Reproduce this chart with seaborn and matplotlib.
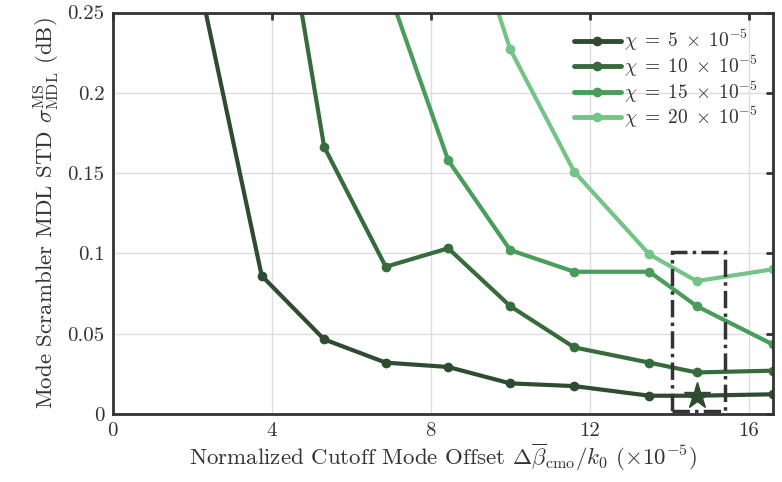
import numpy as np
import pandas as pd
import matplotlib
matplotlib.use('Agg')
import matplotlib.pyplot as plt
from matplotlib.patches import Rectangle
from matplotlib.lines import Line2D
from matplotlib.ticker import FuncFormatter
import seaborn as sns

# data (x in units of 1e-5)
x_offset = [2.18, 3.75, 5.32, 6.87, 8.44, 10.0, 11.61, 13.5, 14.69, 16.6]
std_chi5 = [0.269, 0.0861, 0.0465, 0.0320, 0.0293, 0.0191, 0.0174, 0.0114, 0.0114, 0.0123]
std_chi10 = [None, 0.399, 0.1664, 0.0917, 0.1032, 0.0672, 0.0415, 0.0320, 0.0259, 0.0270]
std_chi15 = [None, None, None, 0.269, 0.158, 0.1021, 0.0886, 0.0886, 0.0672, 0.0434]
std_chi20 = [None, None, None, None, 0.346, 0.2271, 0.1509, 0.0994, 0.0828, 0.0901]
labels = [r'$\chi\;=\;5\;\times\;10^{-5}$', r'$\chi\;=\;10\;\times\;10^{-5}$',
          r'$\chi\;=\;15\;\times\;10^{-5}$', r'$\chi\;=\;20\;\times\;10^{-5}$']
colors = ['#2f4b30', '#366b3c', '#479d59', '#75c487']
best_x, best_y = 14.69, 0.0114

rows = []
for lab, ys in zip(labels, [std_chi5, std_chi10, std_chi15, std_chi20]):
    for xv, yv in zip(x_offset, ys):
        if yv is not None:
            rows.append({'x': xv, 'y': yv, 'chi': lab})
df = pd.DataFrame(rows)

sns.set_theme(style='whitegrid')
plt.rcParams['font.family'] = 'serif'
plt.rcParams['font.serif'] = ['cmr10']
plt.rcParams['mathtext.fontset'] = 'cm'
plt.rcParams['axes.formatter.use_mathtext'] = True

fig = plt.figure(figsize=(7.82, 4.82), dpi=100)
ax = fig.add_axes([0.144, 0.141, 0.844, 0.833])

sns.lineplot(data=df, x='x', y='y', hue='chi', palette=colors, marker='o',
             markersize=7, markeredgewidth=0, linewidth=3, ax=ax, legend=False)

# highlight box + star
ax.add_patch(Rectangle((14.08, 0.002), 1.31, 0.0987, fill=False, edgecolor='#333333',
                       linewidth=2.5, linestyle=(0, (5, 1.5, 1, 1.5)), zorder=5))
ax.plot(best_x, best_y, marker='*', markersize=20, color=colors[0], zorder=6)

ax.set_xlim(0, 16.6)
ax.set_ylim(0, 0.25)
ax.set_xticks([0, 4, 8, 12, 16])
ax.set_yticks([0, 0.05, 0.1, 0.15, 0.2, 0.25])
ax.yaxis.set_major_formatter(FuncFormatter(lambda v, p: '%g' % v))
ax.xaxis.set_major_formatter(FuncFormatter(lambda v, p: '%g' % v))
ax.grid(True, color='#dddddd', linewidth=1)
for s in ax.spines.values():
    s.set_color('#333333')
    s.set_linewidth(2)
ax.tick_params(direction='in', length=5, width=2, color='#333333', top=True, right=True,
               labelsize=15, labelcolor='#333333', pad=6)
ax.set_xlabel(r'Normalized Cutoff Mode Offset $\Delta\overline{\beta}_{\mathrm{cmo}}/k_0$ $(\times 10^{-5})$',
              fontsize=16.5, color='#333333', labelpad=1)
ax.set_ylabel(r'Mode Scrambler MDL STD $\sigma^{\mathrm{MS}}_{\mathrm{MDL}}$ (dB)',
              fontsize=16.5, color='#333333', labelpad=4)

handles = [Line2D([], [], color=c, linewidth=3.5, marker='o', markersize=7, markeredgewidth=0)
           for c in colors]
ax.legend(handles, labels, loc='upper right', frameon=False, fontsize=14,
          handlelength=2.4, handletextpad=0.15, labelspacing=0.02, borderaxespad=0.4,
          labelcolor='#333333')

plt.savefig('out.png', dpi=100)
plt.close()
